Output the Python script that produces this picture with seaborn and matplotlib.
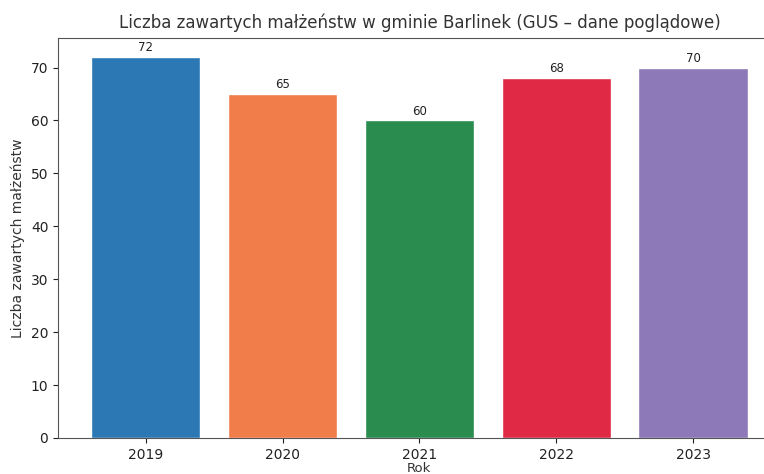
import pandas as pd
import seaborn as sns
import matplotlib.pyplot as plt

lata = ["2019", "2020", "2021", "2022", "2023"]
malzenstwa = [72, 65, 60, 68, 70]
kolory = ["#2b78b5", "#f07d4a", "#2a8c4f", "#e02a45", "#8d78b8"]

df = pd.DataFrame({"Rok": lata, "Liczba": malzenstwa})

sns.set_style("ticks")
plt.rcParams['font.family'] = ['DejaVu Sans']

fig = plt.figure(figsize=(7.64, 4.74), dpi=100)
# oryginal jest przyciety z prawej strony
ax = fig.add_axes([0.076, 0.076, 0.946, 0.844])

sns.barplot(data=df, x="Rok", y="Liczba", hue="Rok", palette=kolory,
            width=0.8, saturation=1, legend=False, ax=ax)

for c in ax.containers:
    ax.bar_label(c, fontsize=8.5, padding=2, color="#222222")

ax.set_xlim(-0.64, 4.64)
ax.set_ylim(0, 75.6)
ax.set_title("Liczba zawartych małżeństw w gminie Barlinek (GUS – dane poglądowe)",
             fontsize=12, color="#333333", pad=7)
ax.set_xlabel("Rok", fontsize=9.5, color="#333333", labelpad=0)
ax.set_ylabel("Liczba zawartych małżeństw", fontsize=10, color="#333333")
ax.tick_params(labelsize=10, colors="#222222")
for s in ax.spines.values():
    s.set_color("#555555")

fig.savefig("out.png", dpi=100)
